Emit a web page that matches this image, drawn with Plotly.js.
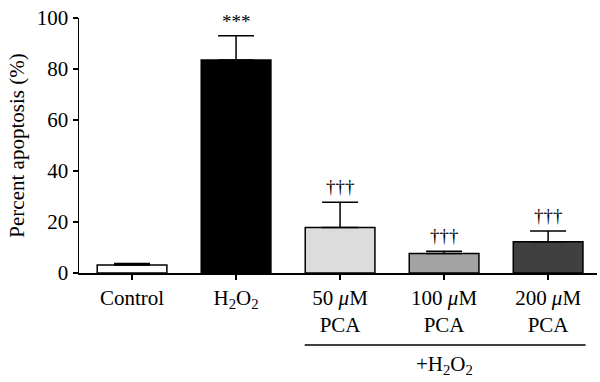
<!DOCTYPE html>
<html>
<head>
<meta charset="utf-8">
<script src="https://cdn.plot.ly/plotly-3.0.1.min.js"></script>
<style>html,body{margin:0;padding:0;background:#fff;}#chart{width:600px;height:382px;}</style>
</head>
<body>
<div id="chart"></div>
<script>
// Data
var categories = ["Control", "H2O2", "50 uM PCA", "100 uM PCA", "200 uM PCA"];
var tickLabels = ["Control", "H<sub>2</sub>O<sub>2</sub>", "50 <i>μ</i>M<br>PCA", "100 <i>μ</i>M<br>PCA", "200 <i>μ</i>M<br>PCA"];
var apoptosis = [3.1, 83.5, 17.8, 7.6, 12.3];
var sem = [0.6, 9.5, 9.9, 0.9, 4.2];
var sigLabels = ["", "***", "†††", "†††", "†††"];
var barColors = ["#ffffff", "#000000", "#dcdcdc", "#a3a3a3", "#404040"];
var groupLabel = "+H<sub>2</sub>O<sub>2</sub>";

var xIdx = categories.map(function (c, i) { return i; });

var FONT = "Liberation Serif, Times New Roman, serif";

var trace = {
  type: "bar",
  x: xIdx,
  y: apoptosis,
  width: 0.67,
  marker: { color: barColors, line: { color: "#000", width: 1.5 } },
  error_y: {
    type: "data", array: sem, symmetric: false,
    arrayminus: sem.map(function () { return 0; }),
    color: "#000", thickness: 1.5, width: 18
  },
  hoverinfo: "none"
};

var annotations = [];
xIdx.forEach(function (i) {
  if (!sigLabels[i]) return;
  annotations.push({
    x: i, y: apoptosis[i] + sem[i], xref: "x", yref: "y",
    text: sigLabels[i], showarrow: false,
    yanchor: "bottom", yshift: sigLabels[i] === "***" ? 2 : 3,
    font: { family: FONT, size: 19, color: "#000" }
  });
});
annotations.push({
  x: 3, y: -0.36, xref: "x", yref: "paper", text: groupLabel,
  showarrow: false, yanchor: "middle",
  font: { family: FONT, size: 21, color: "#000" }
});

var layout = {
  width: 600, height: 382,
  margin: { l: 79, r: 3, t: 18, b: 109 },
  paper_bgcolor: "#fff", plot_bgcolor: "#fff",
  font: { family: FONT, size: 21, color: "#000" },
  showlegend: false,
  bargap: 0.33,
  xaxis: {
    range: [-0.51, 4.47],
    tickmode: "array", tickvals: xIdx, ticktext: tickLabels,
    showline: true, linecolor: "#000", linewidth: 1.5,
    ticks: "outside", ticklen: 5, tickwidth: 1.5, tickcolor: "#000",
    showgrid: false, zeroline: false, fixedrange: true,
    tickfont: { family: FONT, size: 21, color: "#000" }
  },
  yaxis: {
    range: [0, 100], tickvals: [0, 20, 40, 60, 80, 100],
    showline: true, linecolor: "#000", linewidth: 1.5,
    ticks: "outside", ticklen: 5, tickwidth: 1.5, tickcolor: "#000",
    showgrid: false, zeroline: false, fixedrange: true,
    tickfont: { family: FONT, size: 21, color: "#000" },
    title: { text: "Percent apoptosis (%)", font: { family: FONT, size: 21, color: "#000" }, standoff: 6 }
  },
  shapes: [{
    type: "line", xref: "x", yref: "paper",
    x0: 2 - 0.34, x1: 4 + 0.36, y0: -0.282, y1: -0.282,
    line: { color: "#000", width: 1.5 }
  }],
  annotations: annotations
};

Plotly.newPlot("chart", [trace], layout, { displayModeBar: false, staticPlot: true });
</script>
</body>
</html>
